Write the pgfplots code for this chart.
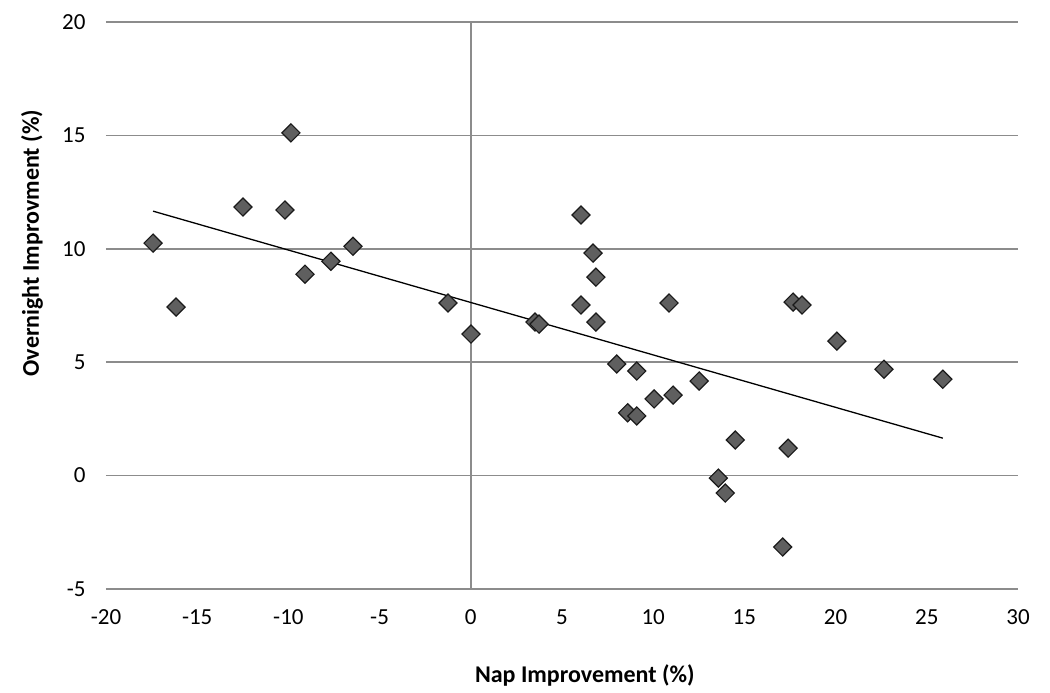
\documentclass[border=0pt]{standalone}
\usepackage{fontspec}
\setmainfont{Carlito}
\usepackage{pgfplots}
\pgfplotsset{compat=1.18}
\definecolor{gridgray}{HTML}{8C8C8C}
\definecolor{markfill}{HTML}{5F5F5F}
\definecolor{markdraw}{HTML}{1A1A1A}
\begin{document}
\begin{tikzpicture}
\begin{axis}[
  scale only axis, width=912pt, height=567pt,
  xmin=-20, xmax=30, ymin=-5, ymax=20,
  xtick={-20,-15,...,30}, ytick={-5,0,...,20},
  xticklabels={-20,-15,-10,-5,0,5,10,15,20,25,30},
  yticklabels={-5,0,5,10,15,20},
  axis line style={draw=none},
  major tick length=0pt,
  ymajorgrids,
  grid style={gridgray, line width=1.6pt},
  ticklabel style={font=\fontsize{23}{27}\selectfont, text=black},
  xticklabel style={yshift=-17pt},
  yticklabel style={xshift=-17pt},
  xlabel={Nap Improvement (\%)},
  ylabel={Overnight Improvment (\%)},
  xlabel style={at={(rel axis cs:0.525,-0.1517)}, anchor=center, font=\bfseries\fontsize{24}{28}\selectfont},
  ylabel style={at={(rel axis cs:-0.0811,0.610)}, anchor=center, font=\bfseries\fontsize{24}{28}\selectfont},
  clip=false,
]
\path (rel axis cs:-0.11623,-0.18342) rectangle (rel axis cs:1.03509,1.0388);
\draw[gridgray, line width=1.6pt] (axis cs:0,-5) -- (axis cs:0,20);
\addplot[black, line width=1.3pt] coordinates {(-17.42,11.66) (25.88,1.65)};
\addplot[only marks, mark=square*, mark size=6.4pt,
  mark options={rotate=45, fill=markfill, draw=markdraw, line width=1.2pt}]
coordinates {
(-17.42,10.25) (-16.16,7.43) (-12.49,11.84) (-9.86,15.11) (-10.19,11.71)
(-9.09,8.88) (-7.67,9.45) (-6.46,10.11) (-1.25,7.61) (0.01,6.24)
(3.52,6.77) (3.74,6.68) (6.04,11.49) (6.70,9.81) (6.86,8.75)
(6.04,7.52) (6.86,6.77) (8.00,4.92) (9.10,4.61) (8.60,2.77)
(9.10,2.63) (10.05,3.38) (11.09,3.55) (10.87,7.61) (12.52,4.17)
(14.50,1.57) (13.57,-0.11) (13.95,-0.77) (17.10,-3.15) (17.40,1.21)
(17.67,7.65) (18.16,7.52) (20.07,5.93) (22.65,4.69) (25.88,4.25)
};
\end{axis}
\end{tikzpicture}
\end{document}
